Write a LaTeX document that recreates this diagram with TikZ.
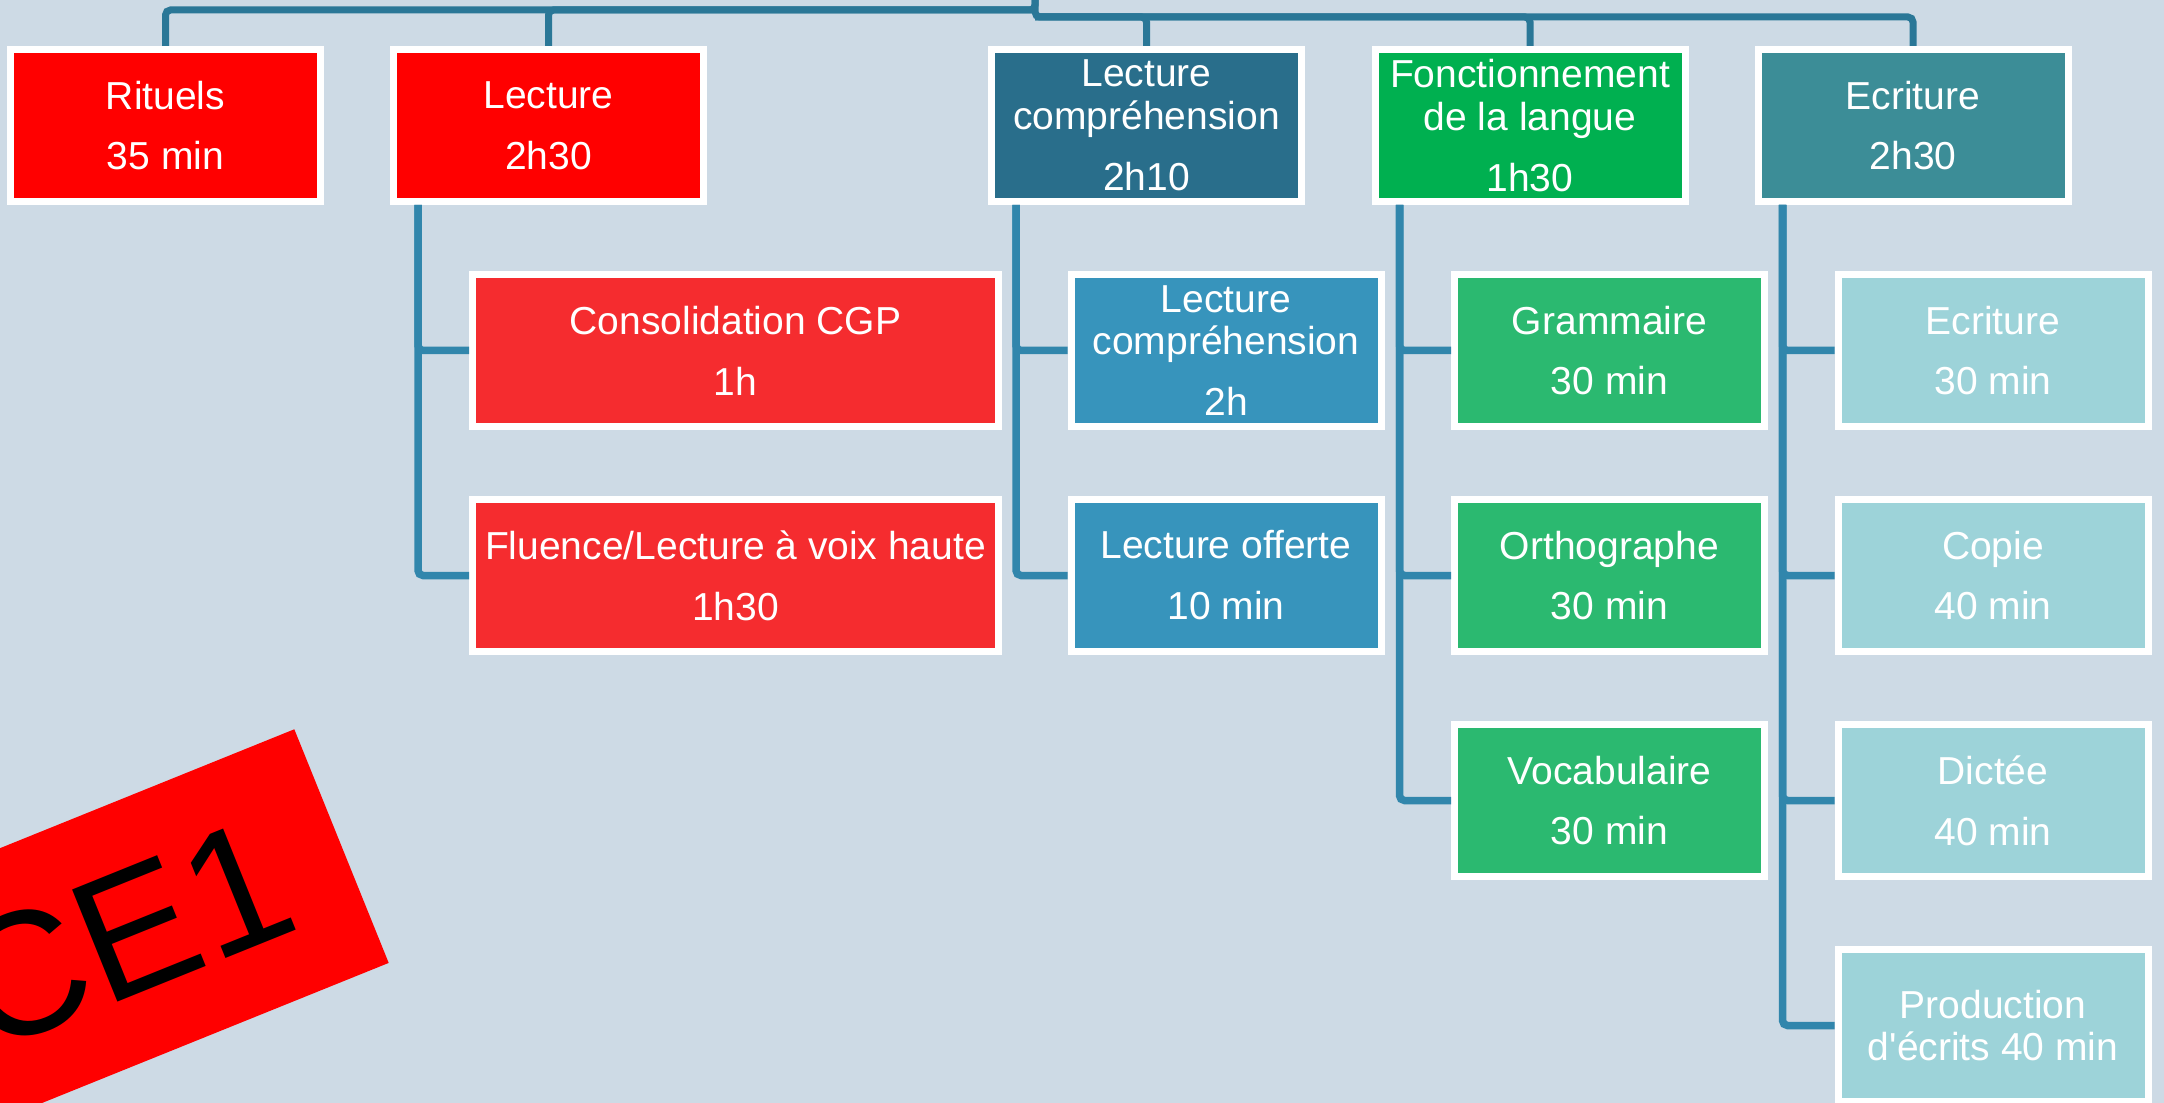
\documentclass[tikz,border=0pt]{standalone}
\usepackage{fontspec}
\setmainfont{Liberation Sans}

\definecolor{fond}{HTML}{CDDAE5}
\definecolor{trait}{HTML}{3186AC}
\definecolor{traithaut}{HTML}{2A7797}
\definecolor{rouge}{HTML}{FF0000}
\definecolor{rougeclair}{HTML}{F52C2F}
\definecolor{bleufonce}{HTML}{296E8B}
\definecolor{bleu}{HTML}{3794BC}
\definecolor{vert}{HTML}{00B050}
\definecolor{vertclair}{HTML}{2BB970}
\definecolor{sarcelle}{HTML}{3C8D97}
\definecolor{sarcelleclair}{HTML}{9DD3D9}

\tikzset{
	boite/.style={draw=white, line width=0.07cm, minimum width=3.10cm, minimum height=1.52cm,
		inner sep=0pt, align=center, text=white, font=\fontsize{11.1}{12.2}\selectfont},
	boitelarge/.style={boite, minimum width=5.26cm},
	lien/.style={draw=trait, line width=0.075cm, rounded corners=0.05cm},
	lienhaut/.style={lien, draw=traithaut, line width=0.07cm}
}

\begin{document}
\begin{tikzpicture}
		\useasboundingbox (0,0) rectangle (21.64,-11.03);
		\clip (0,0) rectangle (21.64,-11.03);
		\fill[fond] (0,0) rectangle (21.64,-11.03);

		% domaines
		\node[boite, fill=rouge] (rit) at (1.655,-1.255) {Rituels\\[0.18cm]35 min};
		\node[boite, fill=rouge] (lect) at (5.485,-1.255) {Lecture\\[0.18cm]2h30};
		\node[boite, fill=bleufonce] (lc) at (11.465,-1.255) {Lecture\\compréhension\\[0.18cm]2h10};
		\node[boite, fill=vert] (fdl) at (15.30,-1.255) {Fonctionnement\\de la langue\\[0.18cm]1h30};
		\node[boite, fill=sarcelle] (ecr) at (19.13,-1.255) {Ecriture\\[0.18cm]2h30};

		% lecture
		\node[boitelarge, fill=rougeclair] (cgp) at (7.355,-3.505) {Consolidation CGP\\[0.18cm]1h};
		\node[boitelarge, fill=rougeclair] (flu) at (7.355,-5.755) {Fluence/Lecture à voix haute\\[0.18cm]1h30};

		% lecture compréhension
		\node[boite, fill=bleu] (lcc) at (12.26,-3.505) {Lecture\\compréhension\\[0.18cm]2h};
		\node[boite, fill=bleu] (off) at (12.26,-5.755) {Lecture offerte\\[0.18cm]10 min};

		% fonctionnement de la langue
		\node[boite, fill=vertclair] (gram) at (16.095,-3.505) {Grammaire\\[0.18cm]30 min};
		\node[boite, fill=vertclair] (orth) at (16.095,-5.755) {Orthographe\\[0.18cm]30 min};
		\node[boite, fill=vertclair] (voc) at (16.095,-8.005) {Vocabulaire\\[0.18cm]30 min};

		% écriture
		\node[boite, fill=sarcelleclair] (ecr1) at (19.93,-3.505) {Ecriture\\[0.18cm]30 min};
		\node[boite, fill=sarcelleclair] (cop) at (19.93,-5.755) {Copie\\[0.18cm]40 min};
		\node[boite, fill=sarcelleclair] (dic) at (19.93,-8.005) {Dictée\\[0.18cm]40 min};
		\node[boite, fill=sarcelleclair] (prod) at (19.93,-10.255) {Production\\d\textquotesingle écrits 40 min};

		% liens du haut
		\coordinate (racine) at (10.35,0);
		\coordinate (busg) at (10.35,-0.10);
		\coordinate (busd) at (10.35,-0.17);
		\draw[lienhaut] (racine) -- (busg) -| (rit.north);
		\draw[lienhaut] (busg) -| (lect.north);
		\draw[lienhaut] (racine) -- (busd) -| (lc.north);
		\draw[lienhaut] (busd) -| (fdl.north);
		\draw[lienhaut] (busd) -| (ecr.north);

		% liens vers les sous-domaines
		\draw[lien] ([xshift=0.28cm]lect.south west) |- (cgp.west);
		\draw[lien] ([xshift=0.28cm]lect.south west) |- (flu.west);
		\draw[lien] ([xshift=0.28cm]lc.south west) |- (lcc.west);
		\draw[lien] ([xshift=0.28cm]lc.south west) |- (off.west);
		\draw[lien] ([xshift=0.28cm]fdl.south west) |- (gram.west);
		\draw[lien] ([xshift=0.28cm]fdl.south west) |- (orth.west);
		\draw[lien] ([xshift=0.28cm]fdl.south west) |- (voc.west);
		\draw[lien] ([xshift=0.28cm]ecr.south west) |- (ecr1.west);
		\draw[lien] ([xshift=0.28cm]ecr.south west) |- (cop.west);
		\draw[lien] ([xshift=0.28cm]ecr.south west) |- (dic.west);
		\draw[lien] ([xshift=0.28cm]ecr.south west) |- (prod.west);

		% niveau
		\node[fill=rouge, rotate=22, minimum width=4.72cm, minimum height=2.52cm, inner sep=0pt,
			font=\fontsize{50}{60}\selectfont] (niveau) at (1.227,-9.345) {CE1};
	\end{tikzpicture}
\end{document}
